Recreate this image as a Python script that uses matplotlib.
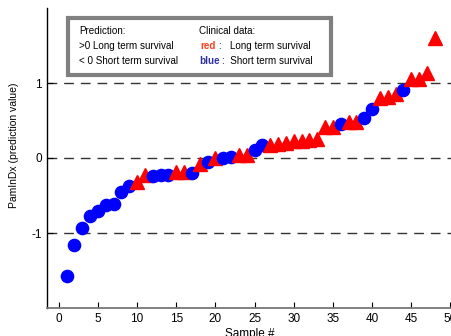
import matplotlib.pyplot as plt
from matplotlib.patches import Rectangle

plt.rcParams['font.family'] = ['Liberation Sans', 'DejaVu Sans']
plt.rcParams['axes.unicode_minus'] = False

# prediction value per sample, sorted
samples = list(range(1, 49))
values = [-1.567, -1.157, -0.936, -0.767, -0.70, -0.633, -0.616, -0.456, -0.376, -0.32,
          -0.229, -0.242, -0.23, -0.23, -0.19, -0.19, -0.198, -0.08, -0.055, 0.0,
          0.0, 0.02, 0.04, 0.045, 0.113, 0.17, 0.18, 0.19, 0.20, 0.224,
          0.23, 0.24, 0.25, 0.41, 0.42, 0.447, 0.477, 0.48, 0.53, 0.66,
          0.80, 0.82, 0.86, 0.913, 1.047, 1.06, 1.14, 1.60]
# clinical outcome: L = long term (red), S = short term (blue)
clinical = list("SSSSSSSSSL" "LSSSLLSLSL" "SSLLSSLLLL" "LLLLLSLLSS" "LLLSLLLL")

fig = plt.figure(figsize=(4.52, 3.36), dpi=100)
ax = fig.add_axes([47 / 452, 28 / 336, 405 / 452, 300 / 336])

for yv in (-1, 0, 1):
    ax.axhline(yv, color='#333333', lw=1.0, ls=(0, (7, 5)), zorder=1)

for x, v, c in zip(samples, values, clinical):
    if c == 'L':
        ax.plot(x, v, '^', color='#ff0000', ms=10.5, mec='#ff0000', zorder=3)
    else:
        ax.plot(x, v, 'o', color='#0000ff', ms=8.8, mec='#0000ff', zorder=3)

ax.set_xlim(-1.5, 50.2)
ax.set_ylim(-2, 2)
ax.set_xticks(range(0, 55, 5))
ax.set_yticks([-1, 0, 1])
ax.tick_params(direction='in', length=4, labelsize=8.5, width=0.8)
ax.spines['top'].set_visible(False)
ax.spines['right'].set_visible(False)
ax.spines['bottom'].set_color('#777777')
ax.spines['bottom'].set_linewidth(1.3)
ax.spines['left'].set_linewidth(1.0)
ax.set_xlabel('Sample #', fontsize=8.5, labelpad=2)
ax.set_ylabel('PamInDx (prediction value)', fontsize=7.5)
ax.yaxis.set_label_coords(-0.068, 0.543)

# info box
box = Rectangle((1.2, 1.113), 33.6, 0.76, facecolor='white', edgecolor='#808080',
                lw=3, zorder=4)
ax.add_patch(box)
fs = 7.1
ax.text(2.6, 1.69, 'Prediction:', fontsize=fs, va='center', zorder=5)
ax.text(2.6, 1.49, '>0 Long term survival', fontsize=fs, va='center', zorder=5)
ax.text(2.6, 1.29, '< 0 Short term survival', fontsize=fs, va='center', zorder=5)
ax.text(17.9, 1.69, 'Clinical data:', fontsize=fs, va='center', zorder=5)
ax.text(18.1, 1.49, 'red', fontsize=fs, va='center', color='#ff4020',
        fontweight='bold', zorder=5)
ax.text(20.4, 1.49, ':   Long term survival', fontsize=fs, va='center', zorder=5)
ax.text(18.0, 1.29, 'blue', fontsize=fs, va='center', color='#3030a0',
        fontweight='bold', zorder=5)
ax.text(20.8, 1.29, ':  Short term survival', fontsize=fs, va='center', zorder=5)

fig.savefig('out.png', dpi=100)
